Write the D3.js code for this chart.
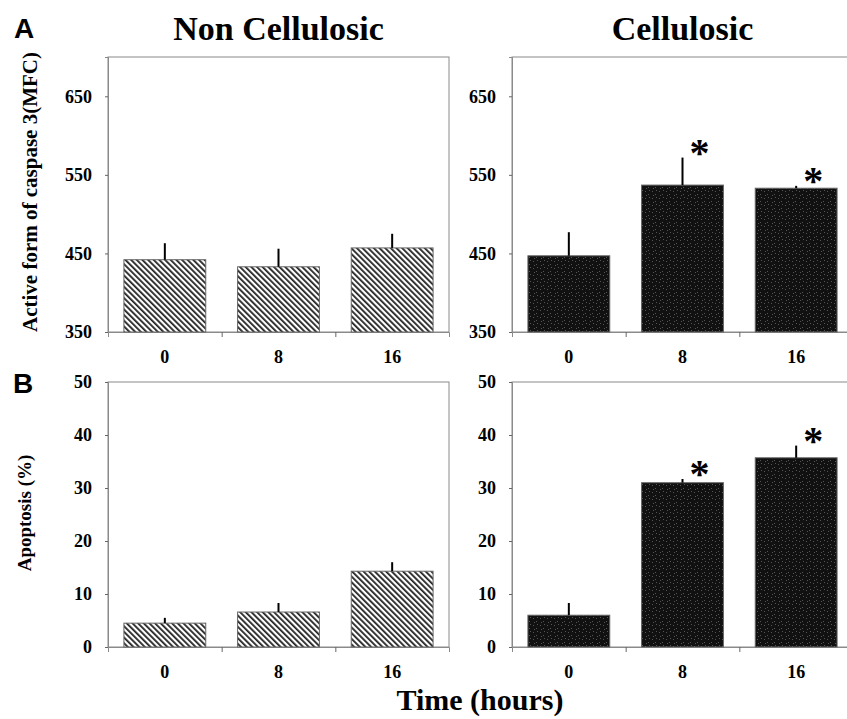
<!DOCTYPE html>
<html lang="en">
    <head>
        <meta charset="utf-8" />
        <title>Caspase 3 and apoptosis</title>
        <script src="https://d3js.org/d3.v7.min.js"></script>
        <style>
            body {
                margin: 0;
                background: #fff;
            }
            text {
                font-family: "Liberation Serif", "Times New Roman", serif;
                font-weight: bold;
                fill: #000;
            }
            .panel-letter {
                font-family: "Liberation Sans", Arial, sans-serif;
            }
        </style>
    </head>
    <body>
        <div id="chart"></div>

        <script>
            // values
            var hours = ["0", "8", "16"];

            var caspaseNonCell = [442, 433, 457];
            var caspaseNonCellErr = [21, 23, 18];
            var caspaseCell = [447, 537, 533];
            var caspaseCellErr = [30, 35, 3];

            var apopNonCell = [4.5, 6.6, 14.3];
            var apopNonCellErr = [1.0, 1.7, 1.7];
            var apopCell = [6.0, 31.0, 35.7];
            var apopCellErr = [2.3, 0.7, 2.3];

            var caspaseSig = [false, true, true];
            var apopSig = [false, true, true];

            var caspaseTicks = [350, 450, 550, 650];
            var apopTicks = [0, 10, 20, 30, 40, 50];

            var width = 847;
            var height = 719;

            var svg = d3
                .select("#chart")
                .append("svg")
                .attr("width", width)
                .attr("height", height);

            var defs = svg.append("defs");

            // diagonal hatching for the non cellulosic bars
            var hatch = defs
                .append("pattern")
                .attr("id", "hatch")
                .attr("patternUnits", "userSpaceOnUse")
                .attr("width", 4)
                .attr("height", 4)
                .attr("patternTransform", "rotate(-45)");
            hatch.append("rect").attr("width", 4).attr("height", 4).attr("fill", "#fff");
            hatch.append("rect").attr("width", 1.8).attr("height", 4).attr("fill", "#222");

            // dark speckled fill for the cellulosic bars
            var speck = defs
                .append("pattern")
                .attr("id", "speck")
                .attr("patternUnits", "userSpaceOnUse")
                .attr("width", 7)
                .attr("height", 7);
            speck.append("rect").attr("width", 7).attr("height", 7).attr("fill", "#111");
            [[1, 2], [4, 5], [5, 1], [2, 6]].forEach(function (p) {
                speck
                    .append("rect")
                    .attr("x", p[0])
                    .attr("y", p[1])
                    .attr("width", 1)
                    .attr("height", 1)
                    .attr("fill", "#555");
            });

            var cols = [
                { x0: 108, x1: 449 },
                { x0: 512, x1: 853 },
            ];
            var rows = [
                { y0: 57, y1: 332, domain: [350, 700], ticks: caspaseTicks },
                { y0: 382, y1: 647, domain: [0, 50], ticks: apopTicks },
            ];

            function drawPanel(col, row, values, errs, sig, fill) {
                var x = d3
                    .scaleBand()
                    .domain(hours)
                    .range([col.x0, col.x1])
                    .paddingInner(0.28)
                    .paddingOuter(0.14);
                var xEdge = d3.scaleLinear().domain([0, 3]).range([col.x0, col.x1]);
                var y = d3.scaleLinear().domain(row.domain).range([row.y1, row.y0]);

                var g = svg.append("g");

                // frame
                g.append("rect")
                    .attr("x", col.x0)
                    .attr("y", row.y0)
                    .attr("width", col.x1 - col.x0)
                    .attr("height", row.y1 - row.y0)
                    .attr("fill", "none")
                    .attr("stroke", "#8a8a8a")
                    .attr("stroke-width", 1);

                var yAxis = g
                    .append("g")
                    .attr("transform", "translate(" + col.x0 + ",0)")
                    .call(
                        d3
                            .axisLeft(y)
                            .tickValues(row.ticks)
                            .tickSize(3)
                            .tickPadding(13)
                            .tickFormat(d3.format("d"))
                    );
                yAxis.select(".domain").attr("stroke", "#8a8a8a");
                yAxis.selectAll(".tick line").attr("stroke", "#666");
                yAxis
                    .selectAll(".tick text")
                    .attr("font-size", 18)
                    .attr("font-family", "Liberation Serif, serif")
                    .attr("font-weight", "bold")
                    .attr("fill", "#000");

                // tick marks between groups
                var xTicks = g
                    .append("g")
                    .attr("transform", "translate(0," + row.y1 + ")")
                    .call(d3.axisBottom(xEdge).tickValues([1, 2]).tickSize(5).tickFormat(""));
                xTicks.select(".domain").attr("stroke", "#8a8a8a");
                xTicks.selectAll(".tick line").attr("stroke", "#666");

                var xLabels = g
                    .append("g")
                    .attr("transform", "translate(0," + row.y1 + ")")
                    .call(d3.axisBottom(x).tickSize(0).tickPadding(18));
                xLabels.select(".domain").remove();
                xLabels
                    .selectAll(".tick text")
                    .attr("font-size", 18)
                    .attr("font-family", "Liberation Serif, serif")
                    .attr("font-weight", "bold")
                    .attr("fill", "#000");

                var data = hours.map(function (h, i) {
                    return { h: h, v: values[i], e: errs[i], s: sig[i] };
                });

                g.selectAll(".bar")
                    .data(data)
                    .enter()
                    .append("rect")
                    .attr("class", "bar")
                    .attr("x", (d) => x(d.h))
                    .attr("y", (d) => y(d.v))
                    .attr("width", x.bandwidth())
                    .attr("height", (d) => y(row.domain[0]) - y(d.v))
                    .attr("fill", fill)
                    .attr("stroke", "#666")
                    .attr("stroke-width", 1);

                g.selectAll(".err")
                    .data(data)
                    .enter()
                    .append("line")
                    .attr("class", "err")
                    .attr("x1", (d) => x(d.h) + x.bandwidth() / 2)
                    .attr("x2", (d) => x(d.h) + x.bandwidth() / 2)
                    .attr("y1", (d) => y(d.v))
                    .attr("y2", (d) => y(d.v + d.e))
                    .attr("stroke", "#000")
                    .attr("stroke-width", 2);

                g.selectAll(".star")
                    .data(data.filter((d) => d.s))
                    .enter()
                    .append("text")
                    .attr("class", "star")
                    .attr("x", (d) => x(d.h) + x.bandwidth() / 2 + 17)
                    .attr("y", (d) => y(d.v + d.e) + 8)
                    .attr("text-anchor", "middle")
                    .attr("font-size", 40)
                    .text("*");
            }

            drawPanel(cols[0], rows[0], caspaseNonCell, caspaseNonCellErr, [false, false, false], "url(#hatch)");
            drawPanel(cols[1], rows[0], caspaseCell, caspaseCellErr, caspaseSig, "url(#speck)");
            drawPanel(cols[0], rows[1], apopNonCell, apopNonCellErr, [false, false, false], "url(#hatch)");
            drawPanel(cols[1], rows[1], apopCell, apopCellErr, apopSig, "url(#speck)");

            // titles
            svg.append("text")
                .attr("x", (cols[0].x0 + cols[0].x1) / 2)
                .attr("y", 40)
                .attr("text-anchor", "middle")
                .attr("font-size", 34)
                .text("Non Cellulosic");
            svg.append("text")
                .attr("x", (cols[1].x0 + cols[1].x1) / 2)
                .attr("y", 40)
                .attr("text-anchor", "middle")
                .attr("font-size", 34)
                .text("Cellulosic");

            svg.append("text")
                .attr("class", "panel-letter")
                .attr("x", 14)
                .attr("y", 38)
                .attr("font-size", 28)
                .text("A");
            svg.append("text")
                .attr("class", "panel-letter")
                .attr("x", 13)
                .attr("y", 393)
                .attr("font-size", 28)
                .text("B");

            // axis titles
            svg.append("text")
                .attr("transform", "translate(37,192) rotate(-90)")
                .attr("text-anchor", "middle")
                .attr("font-size", 21)
                .text("Active form of caspase 3(MFC)");
            svg.append("text")
                .attr("transform", "translate(31,513) rotate(-90)")
                .attr("text-anchor", "middle")
                .attr("font-size", 19)
                .text("Apoptosis (%)");

            svg.append("text")
                .attr("x", 480)
                .attr("y", 710)
                .attr("text-anchor", "middle")
                .attr("font-size", 30)
                .text("Time (hours)");
        </script>
    </body>
</html>
